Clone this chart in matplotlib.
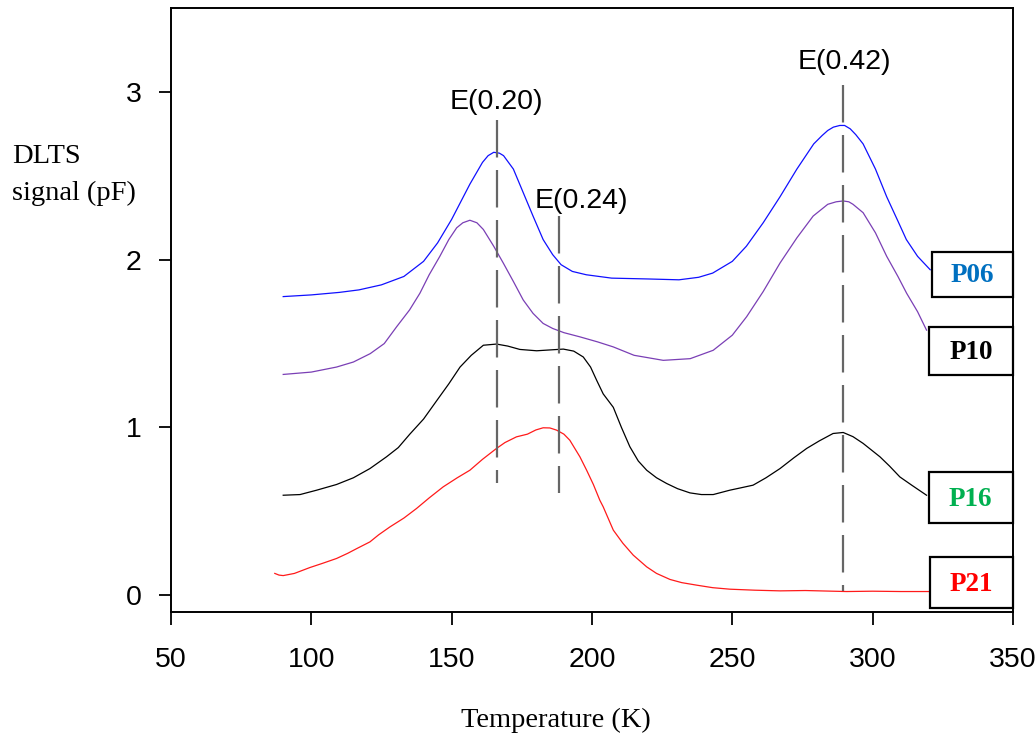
import matplotlib.pyplot as plt
from matplotlib.patches import Rectangle

plt.rcParams['font.family'] = ['Liberation Sans', 'DejaVu Sans']
plt.rcParams['lines.scale_dashes'] = False

# temperature (K) / DLTS signal (pF)
t_p06 = [90, 100, 110, 117, 125, 133, 140, 145, 150, 156.5, 161, 163, 165, 167, 168.5, 172, 175.5, 179,
         182.6, 186, 189, 193, 198, 207, 220, 231, 238, 243, 250, 255, 261, 267, 273, 279, 282, 284, 286,
         288.3, 290, 292, 294, 296.6, 301, 305, 309, 312, 316, 320.5]
s_p06 = [1.78, 1.79, 1.805, 1.82, 1.85, 1.90, 1.99, 2.10, 2.24, 2.45, 2.58, 2.62, 2.64, 2.635, 2.62, 2.54,
         2.40, 2.26, 2.12, 2.03, 1.97, 1.93, 1.91, 1.89, 1.885, 1.88, 1.895, 1.92, 1.99, 2.08, 2.22, 2.375,
         2.54, 2.69, 2.74, 2.77, 2.79, 2.80, 2.80, 2.78, 2.745, 2.69, 2.54, 2.375, 2.23, 2.12, 2.02, 1.94]

t_p10 = [90, 100, 109, 115, 121, 126, 130.4, 135, 138.7, 142, 145.8, 149, 151.8, 154, 156.5, 159, 161.3,
         165, 168.4, 172, 175.5, 179, 182.6, 186, 190, 195.7, 202, 207.6, 215, 225.4, 235, 243.2, 250,
         255.1, 261, 267, 273, 278.8, 284, 287, 289.5, 291.5, 293, 296.6, 301, 305, 309, 312.1, 316, 319.2]
s_p10 = [1.316, 1.33, 1.36, 1.39, 1.44, 1.50, 1.60, 1.70, 1.80, 1.91, 2.02, 2.12, 2.19, 2.22, 2.235, 2.22,
         2.18, 2.08, 1.98, 1.87, 1.76, 1.68, 1.62, 1.59, 1.565, 1.54, 1.51, 1.48, 1.43, 1.40, 1.41, 1.46,
         1.55, 1.66, 1.81, 1.98, 2.13, 2.26, 2.33, 2.345, 2.35, 2.345, 2.33, 2.28, 2.16, 2.02, 1.90, 1.80,
         1.69, 1.58]

t_p16 = [90, 96, 101.9, 109, 115, 120.9, 126.8, 131, 135.1, 140, 144.7, 149, 153, 157, 161.3, 166, 170,
         174.3, 180.3, 185, 189.8, 193.5, 196.9, 199.5, 201.7, 204, 207.6, 210.5, 213.5, 216.5, 219.5,
         223, 226.6, 230.5, 234.9, 239, 243.2, 249.1, 253, 257.4, 262, 267, 272, 276.5, 281, 285.9,
         289.5, 293, 296.6, 302.6, 306, 309.7, 314, 319.2]
s_p16 = [0.596, 0.60, 0.626, 0.66, 0.70, 0.755, 0.825, 0.88, 0.96, 1.05, 1.16, 1.26, 1.36, 1.43, 1.49,
         1.497, 1.485, 1.465, 1.457, 1.462, 1.467, 1.455, 1.42, 1.36, 1.28, 1.20, 1.12, 1.00, 0.885, 0.80,
         0.745, 0.70, 0.666, 0.635, 0.61, 0.60, 0.60, 0.626, 0.64, 0.656, 0.70, 0.755, 0.82, 0.875, 0.92,
         0.964, 0.97, 0.945, 0.905, 0.825, 0.77, 0.705, 0.655, 0.596]

t_p21 = [87, 88.5, 90, 94, 99.5, 104, 109, 113, 116.2, 120.9, 124, 128, 133, 137.5, 142, 147, 152, 156.5,
         161, 166, 169, 173.1, 177, 180, 182.6, 185, 187.4, 190, 192.1, 195.7, 198.1, 200.5, 202.8, 204,
         207.6, 211, 214.7, 219.5, 223, 227.8, 232, 237.3, 243, 249.1, 258, 267, 276, 290.7, 300, 310,
         320.4]
s_p21 = [0.13, 0.12, 0.117, 0.13, 0.165, 0.19, 0.219, 0.25, 0.278, 0.318, 0.36, 0.407, 0.46, 0.517, 0.58,
         0.646, 0.70, 0.745, 0.81, 0.875, 0.91, 0.944, 0.96, 0.985, 0.998, 0.997, 0.984, 0.96, 0.924,
         0.825, 0.745, 0.66, 0.566, 0.527, 0.388, 0.31, 0.239, 0.169, 0.13, 0.094, 0.075, 0.06, 0.045,
         0.036, 0.03, 0.026, 0.028, 0.022, 0.024, 0.022, 0.022]

# trap levels: label, temperature, line top, line bottom
levels = ['E(0.20)', 'E(0.24)', 'E(0.42)']
level_t = [166.1, 188.2, 289.6]
level_top = [2.83, 2.26, 3.04]
level_bot = [0.67, 0.61, 0.025]

samples = ['P06', 'P10', 'P16', 'P21']
sample_colors = ['#0070C0', '#000000', '#00B050', '#FF0000']

fig = plt.figure(figsize=(10.36, 7.42), dpi=100)
ax = fig.add_axes([0.165, 0.1752, 0.8128, 0.814])

ax.plot(t_p06, s_p06, color='#1010FF', lw=0.9)
ax.plot(t_p10, s_p10, color='#7A3FB5', lw=0.9)
ax.plot(t_p16, s_p16, color='black', lw=0.9)
ax.plot(t_p21, s_p21, color='#FF1A1A', lw=0.9)

label_y = [2.94, 2.35, 3.18]
label_x = [166.1, 196.4, 289.8]
for name, t, top, bot, lx, ly in zip(levels, level_t, level_top, level_bot, label_x, label_y):
    ax.plot([t, t], [top, bot], color='#666666', lw=1.6, linestyle=(0, (27, 9)))
    ax.text(lx, ly, name, ha='center', va='center', fontsize=20.5)

# boxed sample names at the right edge: (x0, y0, x1, y1) in data units
boxes = [(321.0, 1.78, 349.9, 2.047), (320.0, 1.315, 350.0, 1.60),
         (319.9, 0.43, 349.9, 0.735), (320.6, -0.075, 349.9, 0.228)]
for name, col, (x0, y0, x1, y1) in zip(samples, sample_colors, boxes):
    ax.add_patch(Rectangle((x0, y0), x1 - x0, y1 - y0, fill=False, ec='black', lw=1.6,
                           clip_on=False, zorder=5))
    ax.text((x0 + x1) / 2, (y0 + y1) / 2 - 0.01, name, ha='center', va='center', color=col,
            fontsize=19.5, fontweight='bold', family='Liberation Serif', zorder=6)

ax.set_xlim(50, 350)
ax.set_ylim(-0.1, 3.5)
ax.set_xticks([50, 100, 150, 200, 250, 300, 350])
ax.set_yticks([0, 1, 2, 3])
ax.tick_params(axis='both', direction='out', length=9, width=1.3, labelsize=20.5)
ax.tick_params(axis='y', pad=12)
ax.tick_params(axis='x', pad=16)
for sp in ax.spines.values():
    sp.set_linewidth(1.4)

fig.text(12 / 1036, 1 - 175 / 742, 'DLTS\nsignal (pF)', ha='left', va='center',
         fontsize=20.5, family='Liberation Serif', linespacing=1.6)
fig.text(556 / 1036, 1 - 720 / 742, 'Temperature (K)', ha='center', va='center',
         fontsize=20.5, family='Liberation Serif')

fig.savefig('out.png', dpi=100)
